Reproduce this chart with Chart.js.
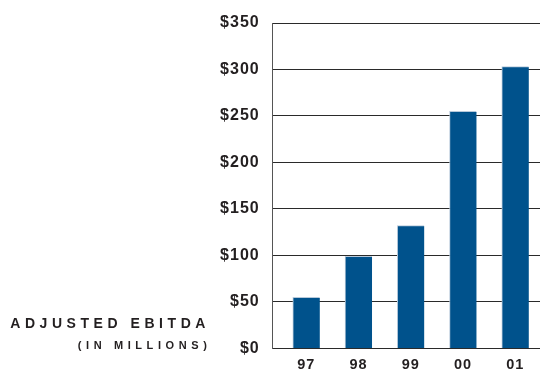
<!DOCTYPE html>
<html lang="en">
<head>
    <meta charset="UTF-8">
    <title>Adjusted EBITDA</title>
    <script src="https://cdn.jsdelivr.net/npm/chart.js"></script>
    <style>
        html, body { margin: 0; padding: 0; background: #fff; }
        #wrap { position: relative; width: 540px; height: 371px; }
        .caption {
            position: absolute;
            font-family: "Liberation Sans", Arial, sans-serif;
            font-weight: bold;
            color: #231f20;
            white-space: nowrap;
            text-align: right;
            line-height: normal;
        }
        #cap1 { top: 314.6px; right: 330px; font-size: 14px; letter-spacing: 4.55px; }
        #cap2 { top: 338.6px; right: 328.5px; font-size: 11px; letter-spacing: 4.6px; }
    </style>
</head>
<body>
<div id="wrap">
    <canvas id="ebitdaChart" width="540" height="371"></canvas>
    <div class="caption" id="cap1">ADJUSTED EBITDA</div>
    <div class="caption" id="cap2">(IN MILLIONS)</div>
</div>

<script>
    const years = ['97', '98', '99', '00', '01'];
    const ebitda = [55, 99, 132, 255, 303];
    const yTicks = [0, 50, 100, 150, 200, 250, 300, 350];

    const points = ebitda.map((v, i) => ({ x: i, y: v }));

    // wider spacing for the axis labels
    const labelSpacing = {
        id: 'labelSpacing',
        beforeDraw(chart) { chart.ctx.letterSpacing = '1px'; },
        afterDraw(chart) { chart.ctx.letterSpacing = '0px'; }
    };

    const ctx = document.getElementById('ebitdaChart').getContext('2d');
    new Chart(ctx, {
        type: 'bar',
        data: {
            datasets: [{
                label: 'Adjusted EBITDA',
                data: points,
                backgroundColor: '#00528c',
                borderColor: '#b7c9da',
                borderWidth: { left: 1, top: 1, right: 0, bottom: 0 },
                borderSkipped: false,
                barThickness: 27
            }]
        },
        options: {
            responsive: false,
            animation: false,
            layout: { padding: { top: 23, right: 0, left: 0, bottom: 0 } },
            plugins: {
                legend: { display: false },
                tooltip: { enabled: false }
            },
            scales: {
                x: {
                    type: 'linear',
                    offset: false,
                    min: -0.643,
                    max: 4.473,
                    afterBuildTicks: (axis) => {
                        axis.ticks = years.map((_, i) => ({ value: i }));
                    },
                    afterFit: (axis) => { axis.height = 22.3; },
                    grid: { display: false, drawTicks: false },
                    border: { display: false },
                    ticks: {
                        padding: 8,
                        maxRotation: 0,
                        color: '#231f20',
                        font: { family: 'Liberation Sans', weight: 'bold', size: 14.5 },
                        callback: (v) => years[v]
                    }
                },
                y: {
                    min: 0,
                    max: 350,
                    afterBuildTicks: (axis) => {
                        axis.ticks = yTicks.map(v => ({ value: v }));
                    },
                    afterFit: (axis) => { axis.width = 272.7; },
                    grid: { color: '#2a2a2a', lineWidth: 1, drawTicks: false },
                    border: { display: true, color: '#555', width: 1 },
                    ticks: {
                        padding: 13,
                        color: '#231f20',
                        font: { family: 'Liberation Sans', weight: 'bold', size: 16 },
                        callback: (v) => '$' + v
                    }
                }
            }
        },
        plugins: [labelSpacing]
    });
</script>
</body>
</html>
